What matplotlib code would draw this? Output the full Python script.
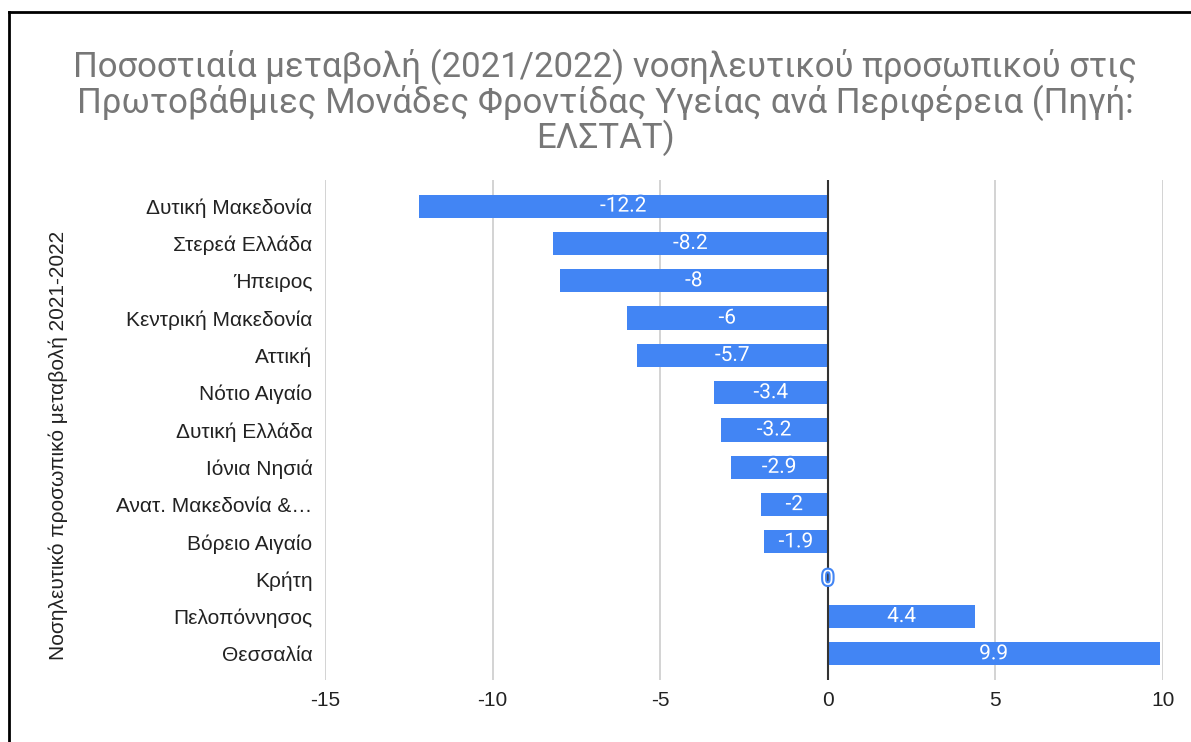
import numpy as np
import matplotlib.pyplot as plt
import matplotlib.patheffects as pe
from matplotlib.lines import Line2D

# Regions top to bottom and their percentage change
regions = ['Δυτική Μακεδονία', 'Στερεά Ελλάδα', 'Ήπειρος', 'Κεντρική Μακεδονία',
           'Αττική', 'Νότιο Αιγαίο', 'Δυτική Ελλάδα', 'Ιόνια Νησιά',
           'Ανατ. Μακεδονία &…', 'Βόρειο Αιγαίο', 'Κρήτη', 'Πελοπόννησος', 'Θεσσαλία']
values = [-12.2, -8.2, -8, -6, -5.7, -3.4, -3.2, -2.9, -2, -1.9, 0, 4.4, 9.9]
value_labels = ['-12.2', '-8.2', '-8', '-6', '-5.7', '-3.4', '-3.2', '-2.9',
                '-2', '-1.9', '0', '4.4', '9.9']
xticks = [-15, -10, -5, 0, 5, 10]

title = ('Ποσοστιαία μεταβολή (2021/2022) νοσηλευτικού προσωπικού στις\n'
         'Πρωτοβάθμιες Μονάδες Φροντίδας Υγείας ανά Περιφέρεια (Πηγή:\n'
         'ΕΛΣΤΑΤ)')
ylabel = 'Νοσηλευτικό προσωπικό μεταβολή 2021-2022'

blue = '#4285f4'

fig = plt.figure(figsize=(11.91, 7.42), dpi=100)
ax = fig.add_axes([0.2729, 0.0836, 0.7036, 0.6738])

y = np.arange(len(regions))
ax.barh(y, values, height=0.62, color=blue, zorder=3)

for yi, v, lab in zip(y, values, value_labels):
    ax.text(v / 2, yi, lab, ha='center', va='center', color='white',
            fontsize=15, family=['Roboto', 'DejaVu Sans'], zorder=5,
            path_effects=[pe.withStroke(linewidth=3, foreground=blue)])

ax.set_ylim(len(regions) - 0.3, -0.7)
ax.set_xlim(-15, 10)
ax.set_xticks(xticks)
ax.set_xticklabels([str(t) for t in xticks])
ax.set_yticks(y)
ax.set_yticklabels(regions)

ax.grid(axis='x', color='#cccccc', linewidth=1.2, zorder=0)
ax.axvline(0, color='#333333', linewidth=1.5, zorder=4)
for s in ax.spines.values():
    s.set_visible(False)
ax.tick_params(axis='both', length=0, labelsize=15, colors='#222222')
ax.tick_params(axis='y', pad=9)
ax.tick_params(axis='x', pad=8)
for t in ax.get_yticklabels() + ax.get_xticklabels():
    t.set_family(['Liberation Sans', 'DejaVu Sans'])

fig.text(0.508, 0.935, title, ha='center', va='top', fontsize=25,
         color='#777777', family=['Roboto', 'DejaVu Sans'], linespacing=0.98)
fig.text(0.049, 0.40, ylabel, rotation=90, ha='center', va='center',
         fontsize=15, color='#222222', family=['Liberation Sans', 'DejaVu Sans'])

# frame edge of the original screenshot (left and top)
fig.add_artist(Line2D([0.0075, 0.0075], [0, 0.984], transform=fig.transFigure,
                      color='black', linewidth=2))
fig.add_artist(Line2D([0.0075, 1.0], [0.984, 0.984], transform=fig.transFigure,
                      color='black', linewidth=2))

plt.savefig('out.png', dpi=100)
